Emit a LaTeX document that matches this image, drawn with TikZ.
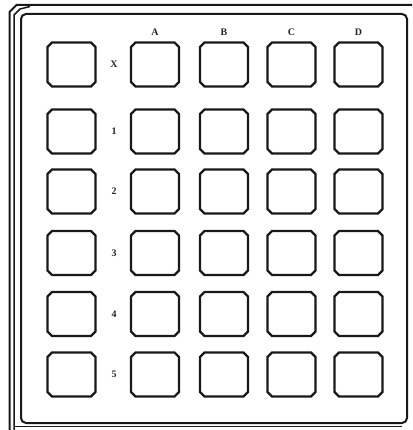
\documentclass[tikz,border=0pt]{standalone}
\usepackage{fontspec}
\setmainfont{Liberation Serif}
\begin{document}
\begin{tikzpicture}[x=1pt,y=-1pt,
  keybox/.pic={\draw[line width=2.2pt, draw=black!90]
      (-19.5,-22) -- (19.5,-22) -- (24,-17.5) -- (24,17.5) -- (19.5,22)
      -- (-19.5,22) -- (-24,17.5) -- (-24,-17.5) -- cycle;
      \coordinate (-c) at (0,0);},
  lab/.style={font=\fontsize{10}{10}\selectfont\bfseries, text=black!85, inner sep=0pt},
  frame/.style={line width=2pt, draw=black!90}]
\useasboundingbox (0,0) rectangle (412,430);
% outer frame
\draw[frame] (9.5,430) -- (9.5,12) -- (16.5,5) -- (412,5);
\draw[frame, line width=1.5pt] (14,430) -- (14,15) -- (20,9) -- (30,6.5);
\draw[frame, line width=1.2pt] (14,426.5) -- (402,426.5);
% inner frame
\draw[frame] (21,14) [rounded corners=5pt] rectangle (407,423);
% column labels
\foreach \n/\x/\t in {a/155/A, b/224/B, c/291.5/C, d/358.5/D}
  \node[lab] (col\n) at (\x,32) {\t};
% rows
\foreach \r/\y/\t in {x/64.5/X, 1/131.5/1, 2/191.5/2, 3/253/3, 4/314/4, 5/374.5/5}{
  \pic (l\r) at (71.5,\y) {keybox};
  \node[lab] (r\r) at (114,\y) {\t};
  \foreach \n/\x in {a/155, b/224, c/291.5, d/358.5}
    \pic (k\n\r) at (\x,\y) {keybox};
}
\end{tikzpicture}
\end{document}
